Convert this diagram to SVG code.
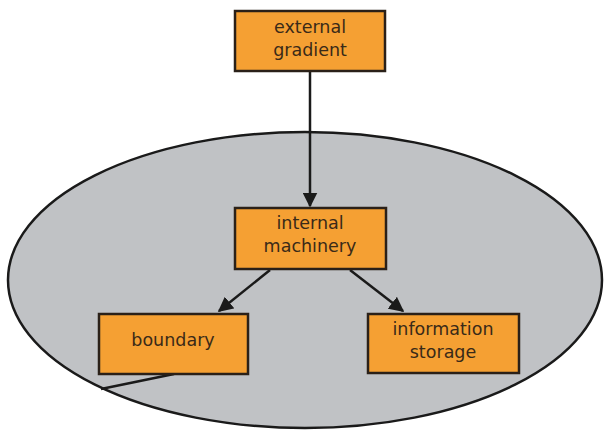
<svg xmlns="http://www.w3.org/2000/svg" width="604" height="431" viewBox="0 0 604 431">
<style>
.node rect{fill:#f5a033;stroke:#2a2018;stroke-width:2.5}
.node text{font-family:"DejaVu Sans",sans-serif;font-size:17.5px;fill:#3a2a18;text-anchor:middle}
.edge{stroke:#1a1a1a;stroke-width:2.5;fill:none}
</style>
<defs>
<marker id="arr" viewBox="0 0 10 10" refX="9" refY="5" markerWidth="6" markerHeight="6" orient="auto" markerUnits="strokeWidth">
<path d="M0,0 L10,5 L0,10 z" fill="#1a1a1a"/>
</marker>
</defs>
<rect width="604" height="431" fill="#ffffff"/>
<ellipse id="cell" cx="305" cy="280" rx="297" ry="148" fill="#c0c2c5" stroke="#1a1a1a" stroke-width="2.5"/>
<g id="connectors">
<line class="edge" x1="310" y1="72" x2="310" y2="206" marker-end="url(#arr)"/>
<line class="edge" x1="270" y1="270" x2="219" y2="311" marker-end="url(#arr)"/>
<line class="edge" x1="350" y1="270" x2="403" y2="311" marker-end="url(#arr)"/>
<line class="edge" x1="174" y1="374" x2="101" y2="389"/>
</g>
<g id="external-gradient" class="node">
<rect x="235" y="11" width="150" height="60"/>
<text x="310" y="33">external</text>
<text x="310" y="56">gradient</text>
</g>
<g id="internal-machinery" class="node">
<rect x="235" y="208" width="151" height="61"/>
<text x="310" y="229">internal</text>
<text x="310" y="252">machinery</text>
</g>
<g id="boundary" class="node">
<rect x="99" y="314" width="149" height="60"/>
<text x="173" y="346">boundary</text>
</g>
<g id="information-storage" class="node">
<rect x="368" y="314" width="151" height="59"/>
<text x="443" y="335">information</text>
<text x="443" y="358">storage</text>
</g>
</svg>
